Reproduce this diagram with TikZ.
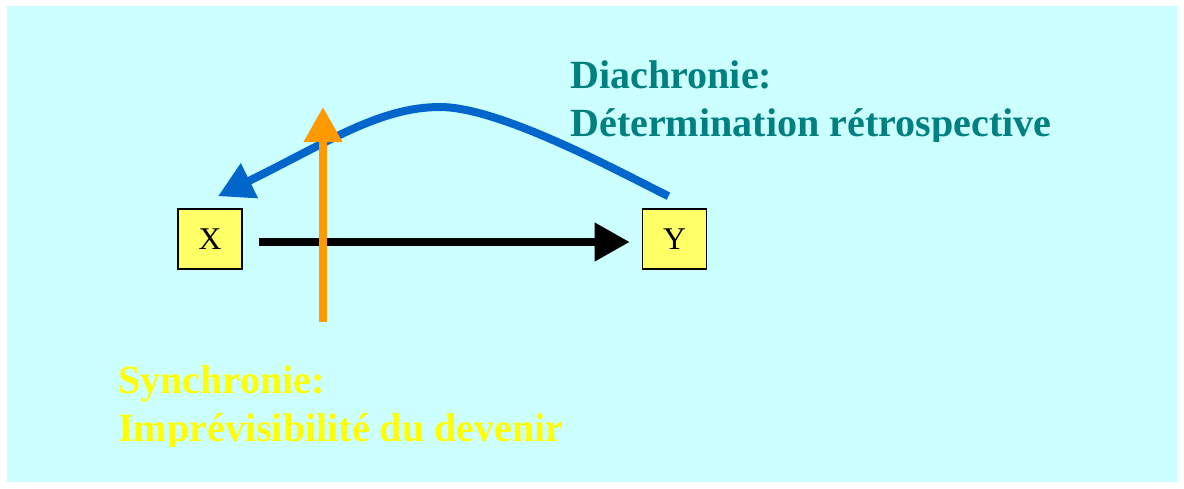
\documentclass[tikz,border=0pt]{standalone}
\usepackage{fontspec}
\setmainfont{Liberation Serif}
\usetikzlibrary{arrows.meta}

\definecolor{bgcyan}{HTML}{CCFFFF}
\definecolor{boxyellow}{HTML}{FFFF66}
\definecolor{diateal}{HTML}{008080}
\definecolor{synyellow}{HTML}{FFFF00}
\definecolor{arcblue}{HTML}{0066CC}
\definecolor{uporange}{HTML}{FF9900}

\begin{document}
\begin{tikzpicture}[x=0.02cm, y=-0.02cm,
    term/.style={draw, line width=0.9pt, fill=boxyellow, inner sep=0pt,
        minimum width=1.28cm, minimum height=1.2cm, font=\fontsize{18}{20}\selectfont},
    headtext/.style={anchor=base west, inner sep=0pt, font=\bfseries\fontsize{22.8}{26}\selectfont},
    fat/.style={line width=4.55pt, -{Triangle[length=20pt, width=21pt]}}]
    % Frame
    \useasboundingbox (0,0) rectangle (1184,488);
    \fill[bgcyan] (7,6) rectangle (1177,482);

    % Terms
    \node[term] (xbox) at (210,239) {X};
    \node[term] (ybox) at (674.5,239) {Y};

    % Causal arrow
    \draw[fat, black] ([shift={(16,3)}]xbox.east) -- ([shift={(-12,3)}]ybox.west);

    % Diachrony
    \coordinate (diatop) at (440,107);
    \draw[fat, arcblue] ([shift={(-6,-12)}]ybox.north)
        .. controls (618,171) and (500,107) .. (diatop)
        .. controls (380,107) and (328,142) .. ([shift={(8,-12)}]xbox.north);

    % Synchrony
    \coordinate (synlow) at (323,322);
    \coordinate (syntop) at (323,107);
    \draw[fat, uporange] (synlow) -- (syntop);

    % Captions
    \begin{scope}
        \clip (560,40) rectangle (1100,141);
        \node[headtext, text=diateal] (diaone) at (570,88) {Diachronie:};
        \node[headtext, text=diateal] (diatwo) at (570,136) {Détermination rétrospective};
    \end{scope}
    \begin{scope}
        \clip (100,340) rectangle (620,446);
        \node[headtext, text=synyellow] (synone) at (118,393) {Synchronie:};
        \node[headtext, text=synyellow] (syntwo) at (118,441) {Imprévisibilité du devenir};
    \end{scope}
\end{tikzpicture}
\end{document}
